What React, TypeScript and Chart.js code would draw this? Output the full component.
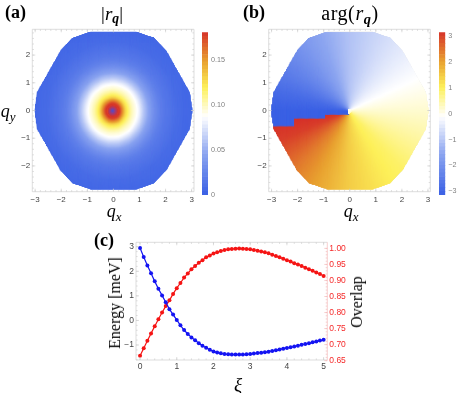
import React, { useEffect, useRef } from "react";
import { Chart, registerables } from "chart.js";

Chart.register(...registerables);

// ---------- data ----------
const xiValues = [0,0.1,0.2,0.3,0.4,0.5,0.6,0.7,0.8,0.9,1,1.1,1.2,1.3,1.4,1.5,1.6,1.7,1.8,1.9,2,2.1,2.2,2.3,2.4,2.5,2.6,2.7,2.8,2.9,3,3.1,3.2,3.3,3.4,3.5,3.6,3.7,3.8,3.9,4,4.1,4.2,4.3,4.4,4.5,4.6,4.7,4.8,4.9,5];
const energyValues = [2.95,2.58,2.24,1.92,1.59,1.29,1.02,0.74,0.46,0.24,0.02,-0.2,-0.39,-0.55,-0.69,-0.81,-0.93,-1.03,-1.11,-1.19,-1.26,-1.3,-1.34,-1.37,-1.38,-1.39,-1.39,-1.39,-1.39,-1.38,-1.37,-1.35,-1.33,-1.31,-1.29,-1.27,-1.24,-1.21,-1.18,-1.15,-1.12,-1.09,-1.06,-1.03,-0.99,-0.96,-0.93,-0.89,-0.86,-0.82,-0.79];
const overlapValues = [0.665,0.689,0.712,0.735,0.757,0.779,0.8,0.82,0.838,0.858,0.876,0.892,0.909,0.922,0.935,0.945,0.955,0.963,0.972,0.978,0.984,0.988,0.992,0.995,0.997,0.998,0.999,1,0.999,0.998,0.997,0.995,0.993,0.99,0.988,0.985,0.98,0.976,0.972,0.968,0.963,0.959,0.954,0.95,0.945,0.94,0.935,0.93,0.925,0.92,0.914];

const xiTicks = [0,1,2,3,4,5];
const energyTicks = [-1,0,1,2,3];
const overlapTicks = [0.65,0.7,0.75,0.8,0.85,0.9,0.95,1];
const qxTicks = [-3,-2,-1,0,1,2,3];
const qyTicks = [-2,-1,0,1,2];
const absBarTicks = [0,0.05,0.1,0.15];
const argBarTicks = [-3,-2,-1,0,1,2,3];

// outline of the sampled q region
const regionX = [-0.87,0.87,1.55,2.0,2.9,3.0,2.9,2.0,1.55,0.87,-0.87,-1.55,-2.0,-2.9,-3.0,-2.9,-2.0,-1.55,-0.87];
const regionY = [2.82,2.82,2.6,2.15,0.65,0,-0.65,-2.15,-2.6,-2.82,-2.82,-2.6,-2.15,-0.65,0,0.65,2.15,2.6,2.82];

// |r_q| against |q|
const radiusSamples = [0.2,0.25,0.3,0.35,0.4,0.45,0.5,0.6,0.7,0.8,0.9,1,1.2,1.4,1.6,1.8,2,2.5,3.2];
const magnitudeSamples = [0.178,0.18,0.172,0.16,0.15,0.138,0.128,0.115,0.104,0.096,0.09,0.082,0.06,0.042,0.03,0.021,0.016,0.008,0.004];
// colours of the small core, where the picture goes straight from red to blue
const coreRadius = [0,0.09,0.2];
const coreRGB = [[70,80,215],[150,60,130],[214,50,42]];

// arg(r_q) against polar angle of q (degrees)
const angleSamples = [-180,-170,-158,-135,-112,-90,-60,-45,-20,0,22,53,90,120,143,165,180];
const phaseSamples = [3.14,3.14,3.0,2.4,1.9,1.45,1.05,0.9,0.5,0.2,-0.1,-0.55,-1.1,-1.75,-2.3,-2.85,-3.14];

// stepped branch cut of the phase: cut height for q_x below each limit
const cutLimitX = [-2.09,-0.93,0];
const cutHeightY = [-0.55,-0.28,-0.12];

const paletteStops = [0,0.25,0.48,0.66,0.82,1];
const paletteRGB = [[58,96,228],[140,165,240],[255,255,255],[253,240,90],[232,160,48],[214,50,42]];

// ---------- helpers ----------
const lookup = (xs: number[], ys: number[], x: number) => {
  if (x <= xs[0]) return ys[0];
  for (let i = 1; i < xs.length; i++) {
    if (x <= xs[i]) {
      const f = (x - xs[i - 1]) / (xs[i] - xs[i - 1]);
      return ys[i - 1] + f * (ys[i] - ys[i - 1]);
    }
  }
  return ys[ys.length - 1];
};
const ramp = (stops: number[], rgb: number[][], t: number) => {
  const c = [0, 1, 2].map((k) => Math.round(lookup(stops, rgb.map((p) => p[k]), t)));
  return `rgb(${c[0]},${c[1]},${c[2]})`;
};
const colourAt = (t: number) => ramp(paletteStops, paletteRGB, t);
const inRegion = (x: number, y: number) => {
  let inside = false;
  for (let i = 0; i < regionX.length - 1; i++) {
    const x1 = regionX[i], y1 = regionY[i], x2 = regionX[i + 1], y2 = regionY[i + 1];
    if (y1 > y !== y2 > y && x < x1 + ((y - y1) / (y2 - y1)) * (x2 - x1)) inside = !inside;
  }
  return inside;
};
const GRID_STEP = 0.035;
const magnitudeColour = (x: number, y: number) => {
  const r = Math.hypot(x, y);
  if (r < 0.2) return ramp(coreRadius, coreRGB, r);
  return colourAt(lookup(radiusSamples, magnitudeSamples, r) / 0.181);
};
const phaseAt = (x: number, y: number) => {
  if (Math.hypot(x, y) < 0.09 && x > -0.05) return 0;
  if (x < 0 && y < 0) {
    const limit = cutLimitX.findIndex((l) => x <= l);
    if (y > cutHeightY[limit < 0 ? 2 : limit]) return -3.14;
  }
  return lookup(angleSamples, phaseSamples, (Math.atan2(y, x) * 180) / Math.PI);
};
const phaseColour = (x: number, y: number) => colourAt((phaseAt(x, y) + 3.14) / 6.28);
const buildField = (colour: (x: number, y: number) => string) => {
  const points: { x: number; y: number }[] = [];
  const colours: string[] = [];
  for (let x = -3; x <= 3.0001; x += GRID_STEP) {
    for (let y = -2.85; y <= 2.8501; y += GRID_STEP) {
      if (!inRegion(x, y)) continue;
      points.push({ x, y });
      colours.push(colour(x, y));
    }
  }
  return { points, colours };
};
const minus = (s: string) => s.replace("-", "\u2212");
const steps = (a: number, b: number, n: number) => Array.from({ length: n + 1 }, (_, i) => a + ((b - a) * i) / n);

const W = 457, H = 393;
const SANS = "'Liberation Sans', Arial, sans-serif";
const SERIF = "'Liberation Serif', 'DejaVu Serif', serif";
const FRAME = "#cfcfcf";
const NO_GRID = { display: false, drawTicks: false };

type Box = { l: number; r: number; t: number; b: number };
const padFor = (box: Box, leftW: number, rightW: number, bottomH: number) => ({
  left: box.l - leftW,
  right: W - box.r - rightW,
  top: box.t,
  bottom: H - box.b - bottomH,
});
const fixW = (w: number) => (s: any) => { s.width = w; };
const fixH = (h: number) => (s: any) => { s.height = h; };
const setTicks = (vals: number[]) => (s: any) => { s.ticks = vals.map((value) => ({ value })); };

const framePlugin = (spec: {
  xMajor: number[]; xMinor: number[]; yMajor: number[]; yMinor: number[];
  rMajor?: number[]; rMinor?: number[]; rightColour?: string;
}) => ({
  id: "frameTicks",
  afterDatasetsDraw(chart: any) {
    const { ctx, chartArea: a, scales } = chart;
    ctx.save();
    ctx.lineWidth = 0.7;
    ctx.strokeStyle = FRAME;
    ctx.beginPath();
    ctx.moveTo(a.right, a.top); ctx.lineTo(a.left, a.top); ctx.lineTo(a.left, a.bottom); ctx.lineTo(a.right, a.bottom);
    if (!spec.rightColour) ctx.lineTo(a.right, a.top);
    const mark = (x1: number, y1: number, x2: number, y2: number) => { ctx.moveTo(x1, y1); ctx.lineTo(x2, y2); };
    [[spec.xMajor, 3], [spec.xMinor, 1.6]].forEach(([vals, len]: any) => vals.forEach((v: number) => {
      const p = scales.x.getPixelForValue(v);
      mark(p, a.bottom, p, a.bottom - len); mark(p, a.top, p, a.top + len);
    }));
    [[spec.yMajor, 3], [spec.yMinor, 1.6]].forEach(([vals, len]: any) => vals.forEach((v: number) => {
      const p = scales.y.getPixelForValue(v);
      mark(a.left, p, a.left + len, p);
      if (!spec.rMajor) mark(a.right, p, a.right - len, p);
    }));
    ctx.stroke();
    if (spec.rMajor && spec.rMinor) {
      ctx.strokeStyle = spec.rightColour;
      ctx.beginPath();
      ctx.moveTo(a.right, a.top); ctx.lineTo(a.right, a.bottom);
      [[spec.rMajor, 3], [spec.rMinor, 1.6]].forEach(([vals, len]: any) => vals.forEach((v: number) => {
        const p = scales.y2.getPixelForValue(v);
        mark(a.right, p, a.right - len, p);
      }));
      ctx.stroke();
    }
    ctx.restore();
  },
});

const heatConfig = (box: Box, field: { points: any[]; colours: string[] }, edge: string) => ({
  type: "scatter",
  data: {
    datasets: [
      {
        data: field.points,
        pointStyle: "rect",
        pointRadius: 1.5,
        pointBorderWidth: 0,
        pointBackgroundColor: field.colours,
        showLine: false,
      },
      {
        type: "line",
        data: regionX.map((x, i) => ({ x, y: regionY[i] })),
        borderColor: edge,
        borderWidth: 1.2,
        pointRadius: 0,
        fill: false,
        tension: 0,
      },
    ],
  },
  options: {
    animation: false,
    responsive: false,
    parsing: false,
    normalized: true,
    layout: { padding: padFor(box, 30, 0, 18) },
    plugins: { legend: { display: false }, tooltip: { enabled: false } },
    scales: {
      x: {
        type: "linear", min: -3.11, max: 3.09,
        grid: NO_GRID, border: { display: false },
        afterBuildTicks: setTicks(qxTicks), afterFit: fixH(18),
        ticks: { padding: 3, maxRotation: 0, autoSkip: false, color: "#444", font: { family: SANS, size: 8 }, callback: (v: number) => minus(String(v)) },
      },
      y: {
        type: "linear", min: -2.93, max: 2.93,
        grid: NO_GRID, border: { display: false },
        afterBuildTicks: setTicks(qyTicks), afterFit: fixW(30),
        ticks: { padding: 2, autoSkip: false, color: "#444", font: { family: SANS, size: 8 }, callback: (v: number) => minus(String(v)) },
      },
    },
  },
  plugins: [framePlugin({
    xMajor: qxTicks, xMinor: steps(-3, 3, 30),
    yMajor: [-2, -1, 0, 1, 2], yMinor: steps(-2.8, 2.8, 28),
  })],
});

const barConfig = (box: Box, labelW: number, lo: number, hi: number, ticks: number[], format: (v: number) => string) => {
  const bands = 44;
  const dv = (hi - lo) / bands;
  const datasets: any[] = Array.from({ length: bands }, (_, i) => ({
    data: [[lo + i * dv, lo + (i + 1) * dv]],
    backgroundColor: colourAt((i + 0.5) / bands),
    borderWidth: 0,
    barPercentage: 1,
    categoryPercentage: 1,
    grouped: false,
  }));
  return {
    type: "bar",
    data: { labels: ["bar"], datasets },
    options: {
      animation: false,
      responsive: false,
      layout: { padding: padFor(box, 0, labelW, 0) },
      plugins: { legend: { display: false }, tooltip: { enabled: false } },
      scales: {
        x: { display: false },
        y: {
          position: "right", type: "linear", min: lo, max: hi,
          grid: NO_GRID, border: { display: false },
          afterBuildTicks: setTicks(ticks), afterFit: fixW(labelW),
          ticks: { padding: 3, autoSkip: false, color: "#808080", font: { family: SANS, size: 7.2 }, callback: format },
        },
      },
    },
  };
};

const lineConfig = (box: Box) => ({
  type: "line",
  data: {
    datasets: [
      {
        label: "Energy",
        data: xiValues.map((x, i) => ({ x, y: energyValues[i] })),
        yAxisID: "y",
        borderColor: "#1414f2", backgroundColor: "#1414f2",
        borderWidth: 1.2, pointRadius: 2, pointBorderWidth: 0, tension: 0,
      },
      {
        label: "Overlap",
        data: xiValues.map((x, i) => ({ x, y: overlapValues[i] })),
        yAxisID: "y2",
        borderColor: "#f51414", backgroundColor: "#f51414",
        borderWidth: 1.2, pointRadius: 2, pointBorderWidth: 0, tension: 0,
      },
    ],
  },
  options: {
    animation: false,
    responsive: false,
    layout: { padding: padFor(box, 30, 30, 18) },
    plugins: { legend: { display: false }, tooltip: { enabled: false } },
    scales: {
      x: {
        type: "linear", min: -0.11, max: 5.1,
        grid: NO_GRID, border: { display: false },
        afterBuildTicks: setTicks(xiTicks), afterFit: fixH(18),
        ticks: { padding: 2, maxRotation: 0, autoSkip: false, color: "#444", font: { family: SANS, size: 8.5 } },
      },
      y: {
        type: "linear", position: "left", min: -1.61, max: 3.18,
        grid: NO_GRID, border: { display: false },
        afterBuildTicks: setTicks(energyTicks), afterFit: fixW(30),
        ticks: { padding: 2, autoSkip: false, color: "#444", font: { family: SANS, size: 8.5 }, callback: (v: number) => minus(String(v)) },
      },
      y2: {
        type: "linear", position: "right", min: 0.652, max: 1.019,
        grid: NO_GRID, border: { display: false },
        afterBuildTicks: setTicks(overlapTicks), afterFit: fixW(30),
        ticks: { padding: 2, autoSkip: false, color: "#f52a2a", font: { family: SANS, size: 8.5 }, callback: (v: number) => v.toFixed(2) },
      },
    },
  },
  plugins: [framePlugin({
    xMajor: xiTicks, xMinor: steps(0, 5, 25),
    yMajor: energyTicks, yMinor: steps(-1.6, 3, 23),
    rMajor: overlapTicks, rMinor: steps(0.65, 1, 35), rightColour: "#f3bcbc",
  })],
});

const Label = ({ x, y, size, bold, rotate, spacing, children }: any) => (
  <span
    style={{
      position: "absolute", left: x, top: y, whiteSpace: "nowrap", color: "#000",
      fontFamily: SERIF, fontSize: size, fontWeight: bold ? 700 : 400, lineHeight: 1,
      letterSpacing: spacing || 0,
      transform: `translate(-50%,-50%)${rotate ? ` rotate(${rotate}deg)` : ""}`,
    }}
  >
    {children}
  </span>
);
const Q = ({ s }: { s: string }) => (
  <span><i>q</i><sub style={{ fontSize: "0.72em", lineHeight: 0, verticalAlign: "-0.28em" }}><i>{s}</i></sub></span>
);
const R = () => (
  <span><i>r</i><sub style={{ fontSize: "0.72em", lineHeight: 0, verticalAlign: "-0.28em" }}><b><i>q</i></b></sub></span>
);

const Panel = ({ make }: { make: () => any }) => {
  const ref = useRef<HTMLCanvasElement>(null);
  useEffect(() => {
    const chart = new Chart(ref.current as HTMLCanvasElement, make());
    return () => chart.destroy();
  }, []);
  return <canvas ref={ref} width={W} height={H} style={{ position: "absolute", left: 0, top: 0, width: W, height: H }} />;
};

const boxA = { l: 32.3, r: 194, t: 29.3, b: 191.7 };
const barA = { l: 202, r: 208, t: 32.3, b: 195 };
const boxB = { l: 268.7, r: 430.3, t: 29.3, b: 191.7 };
const barB = { l: 439, r: 445.3, t: 32.3, b: 195 };
const boxC = { l: 136, r: 327.3, t: 242.3, b: 360 };

export default function App() {
  return (
    <div style={{ position: "fixed", left: 0, top: 0, width: W, height: H, overflow: "hidden", background: "#fff", filter: "blur(0.3px)" }}>
      <Panel make={() => heatConfig(boxA, buildField(magnitudeColour), "#4067e2")} />
      <Panel make={() => barConfig(barA, 24, 0, 0.181, absBarTicks, (v) => (v === 0 ? "0" : v.toFixed(2)))} />
      <Panel make={() => heatConfig(boxB, buildField(phaseColour), "#dcdcdc")} />
      <Panel make={() => barConfig(barB, 11.7, -3.14, 3.14, argBarTicks, (v) => minus(String(v)))} />
      <Panel make={() => lineConfig(boxC)} />

      <Label x={15.5} y={12} size={18} bold>(a)</Label>
      <Label x={112} y={13} size={19}>|<R />|</Label>
      <Label x={254} y={12} size={18} bold>(b)</Label>
      <Label x={350} y={13} size={20} spacing={0.6}>arg(<R />)</Label>
      <Label x={8} y={111} size={18}><Q s="y" /></Label>
      <Label x={114} y={211} size={18}><Q s="x" /></Label>
      <Label x={351} y={211} size={18}><Q s="x" /></Label>
      <Label x={104} y={240} size={18} bold>(c)</Label>
      <Label x={115} y={303} size={16} rotate={-90}>Energy [meV]</Label>
      <Label x={357} y={302} size={16} rotate={-90}>Overlap</Label>
      <Label x={238} y={384} size={19}><i>ξ</i></Label>
    </div>
  );
}
